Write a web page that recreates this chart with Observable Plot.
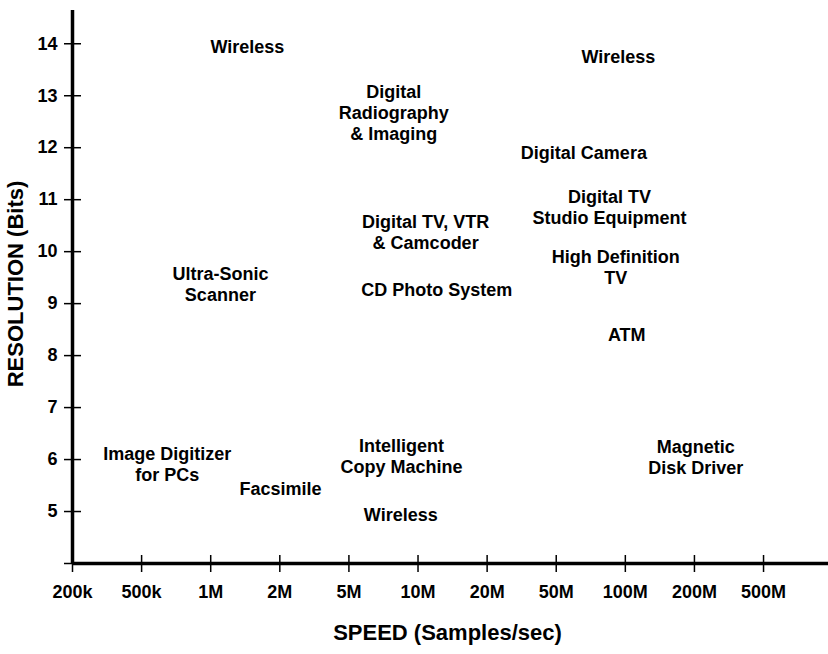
<!DOCTYPE html>
<html>
<head>
<meta charset="utf-8">
<script src="https://cdn.jsdelivr.net/npm/d3@7"></script>
<script src="https://cdn.jsdelivr.net/npm/@observablehq/plot@0.6"></script>
<style>
  html, body { margin: 0; padding: 0; background: #fff; }
  #chart svg { display: block; }
</style>
</head>
<body>
<div id="chart"></div>
<script>
// Speed axis categories (equally spaced positions)
const speedTicks = ["200k", "500k", "1M", "2M", "5M", "10M", "20M", "50M", "100M", "200M", "500M"];
// Resolution tick values
const resolutionTicks = [4, 5, 6, 7, 8, 9, 10, 11, 12, 13, 14];
const resolutionLabels = [5, 6, 7, 8, 9, 10, 11, 12, 13, 14];

// Application labels and their positions (speed position index, resolution bits)
const appNames = [
  "Wireless",
  "Digital\nRadiography\n& Imaging",
  "Wireless",
  "Digital Camera",
  "Digital TV\nStudio Equipment",
  "High Definition\nTV",
  "ATM",
  "Digital TV, VTR\n& Camcoder",
  "CD Photo System",
  "Ultra-Sonic\nScanner",
  "Image Digitizer\nfor PCs",
  "Facsimile",
  "Intelligent\nCopy Machine",
  "Wireless",
  "Magnetic\nDisk Driver"
];
const appSpeed = [2.53, 4.65, 7.90, 7.40, 7.77, 7.86, 8.02, 5.11, 5.27, 2.14, 1.37, 3.01, 4.76, 4.75, 9.02];
const appBits  = [13.95, 12.68, 13.76, 11.91, 10.87, 9.71, 8.42, 10.39, 9.27, 9.38, 5.91, 5.44, 6.07, 4.94, 6.05];

const apps = appNames.map((name, i) => ({name, speed: appSpeed[i], bits: appBits[i]}));
const xIdx = speedTicks.map((_, i) => i);

const chart = Plot.plot({
  width: 828,
  height: 654,
  marginLeft: 72,
  marginRight: 0,
  marginTop: 10,
  marginBottom: 91,
  style: {fontFamily: "'Liberation Sans', Arial, Helvetica, sans-serif", fontWeight: "bold", background: "#fff", color: "#000"},
  x: {type: "linear", domain: [0, 10.94]},
  y: {domain: [4, 14.64]},
  marks: [
    // crossing tick marks
    Plot.axisX(xIdx, {tickSize: 17, dy: -8, tickFormat: () => "", label: null, strokeWidth: 1.5}),
    Plot.axisY(resolutionTicks, {tickSize: 17, dx: 9, tickFormat: () => "", label: null, strokeWidth: 1.5}),
    // tick labels
    Plot.axisX(xIdx, {tickSize: 0, tickPadding: 22, tickFormat: i => speedTicks[i], label: null, fontSize: 18, fontWeight: "bold"}),
    Plot.axisY(resolutionLabels, {tickSize: 0, tickPadding: 15, tickFormat: d3.format("d"), label: null, fontSize: 18, fontWeight: "bold"}),
    // axis lines
    Plot.ruleX([0], {strokeWidth: 3.5}),
    Plot.ruleY([4], {strokeWidth: 3.5}),
    // axis titles
    Plot.text(["SPEED (Samples/sec)"], {frameAnchor: "bottom", dy: 76, dx: -3, fontSize: 22, fontWeight: "bold"}),
    Plot.text(["RESOLUTION (Bits)"], {frameAnchor: "left", textAnchor: "middle", rotate: -90, dx: -57, dy: -3, fontSize: 22, fontWeight: "bold"}),
    // application labels
    Plot.text(apps, {x: "speed", y: "bits", text: "name", fontSize: 18, fontWeight: "bold", lineHeight: 1.17, fill: "#000"})
  ]
});
document.getElementById("chart").appendChild(chart);
</script>
</body>
</html>
